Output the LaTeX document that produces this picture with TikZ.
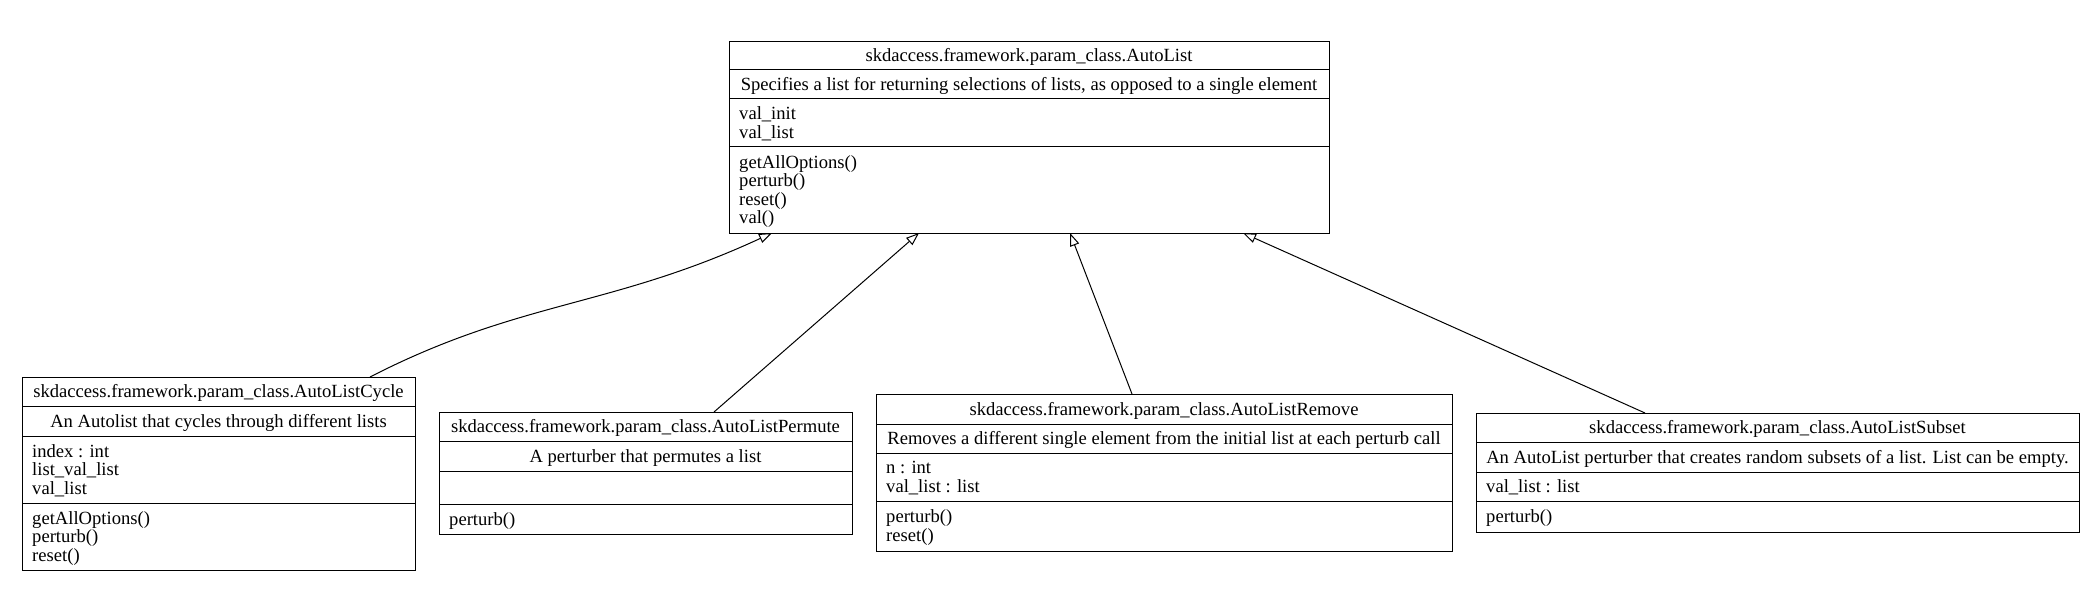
\documentclass[tikz,border=0pt]{standalone}
\usepackage{fontspec}
\setmainfont{Liberation Serif}
\usetikzlibrary{arrows.meta}
\tikzset{
  classbox/.style={draw, line width=1pt, inner sep=0pt, anchor=north west},
  sepline/.style={line width=1pt},
  ctext/.style={anchor=base, inner sep=0pt, yshift=-1.5pt, font=\fontsize{18.6}{18.5}\selectfont},
  ltext/.style={anchor=base west, inner sep=0pt, yshift=-1.5pt, font=\fontsize{18.6}{18.5}\selectfont},
  inherit/.style={line width=1pt, -{Triangle[open, length=13pt, width=9.5pt]}},
}
\begin{document}
\begin{tikzpicture}[x=1pt, y=-1pt]
\useasboundingbox (0,0) rectangle (2096,604);

% ---------- AutoList ----------
\node[classbox, minimum width=600pt, minimum height=192pt] (autolist) at (729,41) {};
\draw[sepline] (729,70) -- (1329,70);
\draw[sepline] (729,99) -- (1329,99);
\draw[sepline] (729,147) -- (1329,147);
\node[ctext] (al-t) at (1029,60) {skdaccess.framework.param\_class.AutoList};
\node[ctext] (al-d) at (1029,89) {Specifies a list for returning selections of lists, as opposed to a single element};
\node[ltext] (al-a1) at (739,118.25) {val\_init};
\node[ltext] (al-a2) at (739,136.75) {val\_list};
\node[ltext] (al-m1) at (739,166.75) {getAllOptions()};
\node[ltext] (al-m2) at (739,185.25) {perturb()};
\node[ltext] (al-m3) at (739,203.75) {reset()};
\node[ltext] (al-m4) at (739,222.25) {val()};

% ---------- AutoListCycle ----------
\node[classbox, minimum width=393pt, minimum height=193pt] (cycle) at (22,377) {};
\draw[sepline] (22,406) -- (415,406);
\draw[sepline] (22,436) -- (415,436);
\draw[sepline] (22,503) -- (415,503);
\node[ctext] (cy-t) at (218.5,396) {skdaccess.framework.param\_class.AutoListCycle};
\node[ctext] (cy-d) at (218.5,425.5) {An Autolist that cycles through different lists};
\node[ltext] (cy-a1) at (32,455.5) {index : int};
\node[ltext] (cy-a2) at (32,474) {list\_val\_list};
\node[ltext] (cy-a3) at (32,492.5) {val\_list};
\node[ltext] (cy-m1) at (32,522.5) {getAllOptions()};
\node[ltext] (cy-m2) at (32,541) {perturb()};
\node[ltext] (cy-m3) at (32,559.5) {reset()};

% ---------- AutoListPermute ----------
\node[classbox, minimum width=413pt, minimum height=122pt] (permute) at (439,412) {};
\draw[sepline] (439,441) -- (852,441);
\draw[sepline] (439,471) -- (852,471);
\draw[sepline] (439,504) -- (852,504);
\node[ctext] (pe-t) at (645.5,431) {skdaccess.framework.param\_class.AutoListPermute};
\node[ctext] (pe-d) at (645.5,460.5) {A perturber that permutes a list};
\node[ltext] (pe-m1) at (449,523.5) {perturb()};

% ---------- AutoListRemove ----------
\node[classbox, minimum width=576pt, minimum height=157pt] (remove) at (876,394) {};
\draw[sepline] (876,424) -- (1452,424);
\draw[sepline] (876,453) -- (1452,453);
\draw[sepline] (876,501) -- (1452,501);
\node[ctext] (re-t) at (1164,413.5) {skdaccess.framework.param\_class.AutoListRemove};
\node[ctext] (re-d) at (1164,443) {Removes a different single element from the initial list at each perturb call};
\node[ltext] (re-a1) at (886,472.25) {n : int};
\node[ltext] (re-a2) at (886,490.75) {val\_list : list};
\node[ltext] (re-m1) at (886,521.25) {perturb()};
\node[ltext] (re-m2) at (886,539.75) {reset()};

% ---------- AutoListSubset ----------
\node[classbox, minimum width=603pt, minimum height=119pt] (subset) at (1476,413) {};
\draw[sepline] (1476,442) -- (2079,442);
\draw[sepline] (1476,472) -- (2079,472);
\draw[sepline] (1476,501) -- (2079,501);
\node[ctext] (su-t) at (1777.5,432) {skdaccess.framework.param\_class.AutoListSubset};
\node[ctext] (su-d) at (1777.5,461.5) {An AutoList perturber that creates random subsets of a list. List can be empty.};
\node[ltext] (su-a1) at (1486,491) {val\_list : list};
\node[ltext] (su-m1) at (1486,521) {perturb()};

% ---------- connector end points ----------
\coordinate (al-in1) at (772,233);
\coordinate (al-in2) at (919,233);
\coordinate (al-in3) at (1070,233);
\coordinate (al-in4) at (1243,233);
\coordinate (cy-out) at (370,377);
\coordinate (pe-out) at (714,412);
\coordinate (re-out) at (1132,394);
\coordinate (su-out) at (1645,413);

% ---------- inheritance ----------
\draw[inherit] (cy-out) .. controls (520,300) and (610,308) .. (al-in1);
\draw[inherit] (pe-out) -- (al-in2);
\draw[inherit] (re-out) -- (al-in3);
\draw[inherit] (su-out) -- (al-in4);
\end{tikzpicture}
\end{document}
